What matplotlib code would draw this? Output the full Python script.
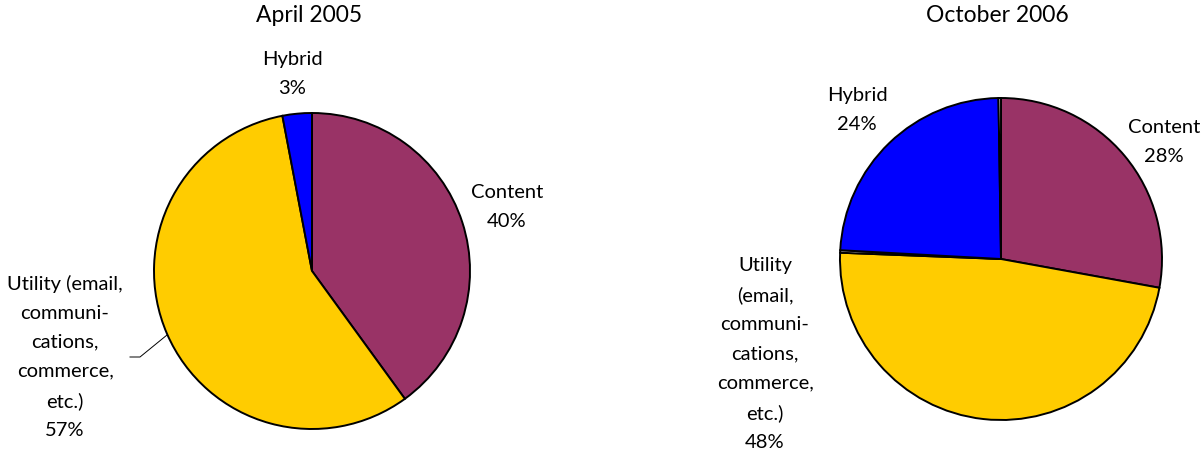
import matplotlib
matplotlib.use("Agg")
import matplotlib.pyplot as plt

plt.rcParams['font.family'] = ['Lato', 'DejaVu Sans']

W, H = 1201, 453

# April 2005
apr_labels = ["Content", "Utility (email,\ncommuni-\ncations,\ncommerce,\netc.)", "Hybrid"]
apr_values = [40, 57, 3]

# October 2006 (two tiny unlabeled slivers sit between the main segments)
oct_labels = ["Content", "Utility\n(email,\ncommuni-\ncations,\ncommerce,\netc.)", "", "Hybrid", ""]
oct_values = [28, 48, 0.25, 24, 0.25]

colors_apr = ["#993366", "#FFCC00", "#0000FF"]
colors_oct = ["#993366", "#FFCC00", "#FFFFFF", "#0000FF", "#FFFFFF"]

fig = plt.figure(figsize=(W / 100, H / 100), dpi=100)
ax = fig.add_axes([0, 0, 1, 1])


def py(y):
    return H - y


wedge_style = dict(edgecolor='black', linewidth=1.4)

ax.pie(apr_values, colors=colors_apr, startangle=90, counterclock=False,
       center=(312, py(271)), radius=158, wedgeprops=wedge_style, frame=True)
ax.pie(oct_values, colors=colors_oct, startangle=90, counterclock=False,
       center=(1001, py(259)), radius=161, wedgeprops=wedge_style, frame=True)
ax.set_xlim(0, W)
ax.set_ylim(0, H)
ax.set_aspect('equal')
ax.axis('off')

title_fs = 16.5
label_fs = 14.5
ls = 1.86


def label(x, y, name, value):
    ax.text(x, py(y), f"{name}\n{value}%", ha='center', va='center',
            fontsize=label_fs, linespacing=ls, color='black')


ax.text(309, py(16), "April 2005", ha='center', va='center', fontsize=title_fs)
ax.text(997, py(15), "October 2006", ha='center', va='center', fontsize=title_fs)

# April 2005 labels
label(292, 74, apr_labels[2], apr_values[2])
label(507, 207, apr_labels[0], apr_values[0])
label(65, 357, apr_labels[1], apr_values[1])
ax.plot([130, 140, 167], [py(357), py(357), py(335)], color='black', linewidth=0.7)

# October 2006 labels
label(857, 110, oct_labels[3], oct_values[3])
label(1164, 142, oct_labels[0], oct_values[0])
label(765, 354, oct_labels[1], oct_values[1])

fig.savefig("out.png", dpi=100, facecolor='white')
